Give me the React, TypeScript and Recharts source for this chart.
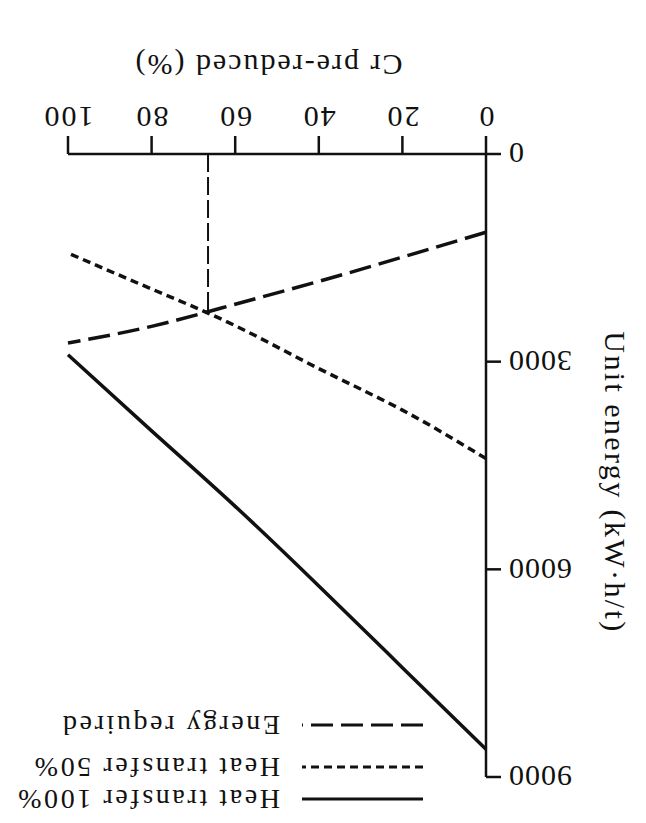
import { Legend, Line, LineChart, ReferenceLine, XAxis, YAxis } from "recharts";

// Cr pre-reduced (%) vs unit energy (kW·h/t); the scanned figure is printed upside down
const crPercent = [0, 20, 40, 60, 80, 100];
const heatTransfer100 = [8600, 7420, 6240, 5090, 4000, 2900];
const heatTransfer50 = [4400, 3700, 3100, 2480, 1950, 1430];
const energyRequired = [1130, 1490, 1840, 2170, 2490, 2730];
const crTicks = [0, 20, 40, 60, 80, 100];
const energyTicks = [0, 3000, 6000, 9000];
const crossoverCr = 66.5;
const crossoverEnergy = 2290;

const data = crPercent.map((cr, i) => ({
  cr,
  heat100: heatTransfer100[i],
  heat50: heatTransfer50[i],
  energy: energyRequired[i],
}));

const FONT = "'Liberation Serif', 'Times New Roman', serif";
const INK = "#111";

const series = [
  { key: "heat100", name: "Heat transfer 100%", dash: undefined as string | undefined },
  { key: "heat50", name: "Heat transfer 50%", dash: "8 5" },
  { key: "energy", name: "Energy required", dash: "22 8" },
];

// legend rows, drawn as one small svg so the spacing is exact
const legendRowY = [20, 52, 94];

function ChartLegend() {
  return (
    <svg width={423} height={115} style={{ display: "block" }}>
      {series.map((s, i) => (
        <g key={s.key}>
          <line x1={0} x2={121} y1={legendRowY[i]} y2={legendRowY[i]} stroke={INK} strokeWidth={3} strokeDasharray={s.dash} />
          <text x={143} y={legendRowY[i]} dominantBaseline="central" fill={INK} fontSize={28} fontFamily={FONT} letterSpacing={2.6}>
            {s.name}
          </text>
        </g>
      ))}
    </svg>
  );
}

const xTitle = (props: any) => {
  const { x, y, width } = props.viewBox;
  return (
    <text x={x + width / 2 + 9} y={y + 99} textAnchor="middle" fill={INK} fontSize={30} fontFamily={FONT} letterSpacing={2}>
      Cr pre-reduced (%)
    </text>
  );
};

const yTitle = (props: any) => {
  const { x, y, height } = props.viewBox;
  const cx = x + 31;
  const cy = y + height / 2 - 17;
  return (
    <text x={cx} y={cy} transform={`rotate(-90 ${cx} ${cy})`} textAnchor="middle" fill={INK} fontSize={30} fontFamily={FONT} letterSpacing={2.4}>
      Unit energy (kW·h/t)
    </text>
  );
};

export default function App() {
  const axisStroke = { stroke: INK, strokeWidth: 2.5 };
  return (
    <div
      style={{
        position: "absolute",
        left: 0,
        top: 0,
        width: 646,
        height: 823,
        background: "#fff",
        transform: "rotate(180deg)",
      }}
    >
      <LineChart width={646} height={823} data={data} margin={{ top: 46, right: 68, bottom: 54, left: 10 }}>
        <XAxis
          type="number"
          dataKey="cr"
          domain={[0, 100]}
          ticks={crTicks}
          height={100}
          tickSize={18}
          tickMargin={8}
          axisLine={axisStroke}
          tickLine={axisStroke}
          tick={{ fill: INK, fontSize: 30, fontFamily: FONT, letterSpacing: 2 }}
          label={{ content: xTitle }}
        />
        <YAxis
          type="number"
          domain={[0, 9000]}
          ticks={energyTicks}
          width={150}
          tickSize={15}
          tickMargin={7}
          axisLine={axisStroke}
          tickLine={axisStroke}
          tick={{ fill: INK, fontSize: 30, fontFamily: FONT, letterSpacing: 1 }}
          label={{ content: yTitle }}
        />
        <ReferenceLine
          segment={[
            { x: crossoverCr, y: 0 },
            { x: crossoverCr, y: crossoverEnergy },
          ]}
          stroke={INK}
          strokeWidth={2}
          strokeDasharray="18 5"
        />
        {series.map((s) => (
          <Line
            key={s.key}
            dataKey={s.key}
            name={s.name}
            type="natural"
            stroke={INK}
            strokeWidth={3.5}
            strokeDasharray={s.dash}
            dot={false}
            isAnimationActive={false}
          />
        ))}
        <Legend
          layout="vertical"
          align="center"
          verticalAlign="middle"
          content={ChartLegend}
          wrapperStyle={{ top: 4, left: 223, width: 423, height: 115 }}
        />
      </LineChart>
    </div>
  );
}
